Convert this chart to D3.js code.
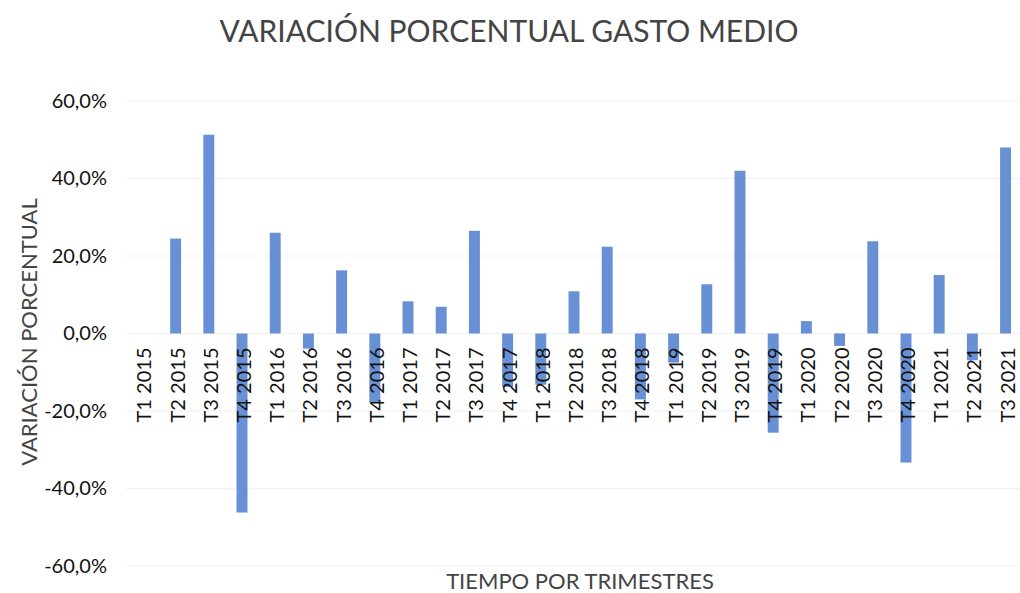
<!DOCTYPE html>
<html>
<head>
<meta charset="utf-8">
<script src="https://cdn.jsdelivr.net/npm/d3@7"></script>
<style>
  body { margin: 0; background: #fff; }
  text { font-family: Lato, "Open Sans", sans-serif; }
</style>
</head>
<body>
<script>
var trimestres = ["T1 2015","T2 2015","T3 2015","T4 2015","T1 2016","T2 2016","T3 2016","T4 2016",
  "T1 2017","T2 2017","T3 2017","T4 2017","T1 2018","T2 2018","T3 2018","T4 2018",
  "T1 2019","T2 2019","T3 2019","T4 2019","T1 2020","T2 2020","T3 2020","T4 2020",
  "T1 2021","T2 2021","T3 2021"];
var variacion = [0, 0.245, 0.513, -0.462, 0.26, -0.039, 0.163, -0.178,
  0.083, 0.069, 0.265, -0.138, -0.132, 0.109, 0.224, -0.17,
  -0.075, 0.127, 0.42, -0.256, 0.032, -0.032, 0.238, -0.333,
  0.151, -0.069, 0.48];
var yTicks = [0.6, 0.4, 0.2, 0, -0.2, -0.4, -0.6];

var width = 1020, height = 593;

var svg = d3.select("body")
  .append("svg")
  .attr("width", width)
  .attr("height", height);

var es = d3.formatLocale({decimal: ",", thousands: ".", grouping: [3], currency: ["", "€"], minus: "-"});
var pct = es.format(".1%");

var x = d3.scaleBand()
  .domain(trimestres)
  .range([126, 1022])
  .paddingInner(0.67)
  .paddingOuter(0.33);

var y = d3.scaleLinear()
  .domain([-0.6, 0.6])
  .range([566, 101]);

// gridlines, very faint
svg.append("g")
  .selectAll("line")
  .data(yTicks)
  .enter()
  .append("line")
  .attr("x1", 126)
  .attr("x2", 1020)
  .attr("y1", function(d) { return y(d); })
  .attr("y2", function(d) { return y(d); })
  .attr("stroke", "#f1f1f1")
  .attr("stroke-width", 1);

// y axis labels
var yAxis = d3.axisLeft(y)
  .tickValues(yTicks)
  .tickFormat(pct)
  .tickSize(0)
  .tickPadding(0);

var gy = svg.append("g")
  .attr("transform", "translate(107,0)")
  .call(yAxis);
gy.select(".domain").remove();
gy.selectAll("text")
  .attr("fill", "#111")
  .style("font-size", "20px");

// bars
svg.selectAll("rect.bar")
  .data(variacion)
  .enter()
  .append("rect")
  .attr("class", "bar")
  .attr("x", function(d, i) { return x(trimestres[i]); })
  .attr("width", x.bandwidth())
  .attr("y", function(d) { return y(Math.max(0, d)); })
  .attr("height", function(d) { return Math.abs(y(d) - y(0)); })
  .attr("fill", "#6890d4");

// category labels, rotated
svg.selectAll("text.cat")
  .data(trimestres)
  .enter()
  .append("text")
  .attr("class", "cat")
  .text(function(d) { return d; })
  .attr("transform", function(d) {
    return "translate(" + (x(d) + x.bandwidth() / 2 + 9) + "," + (y(0) + 14) + ") rotate(-90)";
  })
  .attr("text-anchor", "end")
  .attr("fill", "#111")
  .style("font-size", "20px");

// title
svg.append("text")
  .text("VARIACIÓN PORCENTUAL GASTO MEDIO")
  .attr("x", 509)
  .attr("y", 42)
  .attr("text-anchor", "middle")
  .attr("fill", "#444")
  .style("font-size", "30px");

// axis titles
svg.append("text")
  .text("VARIACIÓN PORCENTUAL")
  .attr("transform", "translate(37,332) rotate(-90)")
  .attr("text-anchor", "middle")
  .attr("fill", "#444")
  .style("font-size", "22px");

svg.append("text")
  .text("TIEMPO POR TRIMESTRES")
  .attr("x", 580)
  .attr("y", 589)
  .attr("text-anchor", "middle")
  .attr("fill", "#444")
  .style("font-size", "22px");
</script>
</body>
</html>
